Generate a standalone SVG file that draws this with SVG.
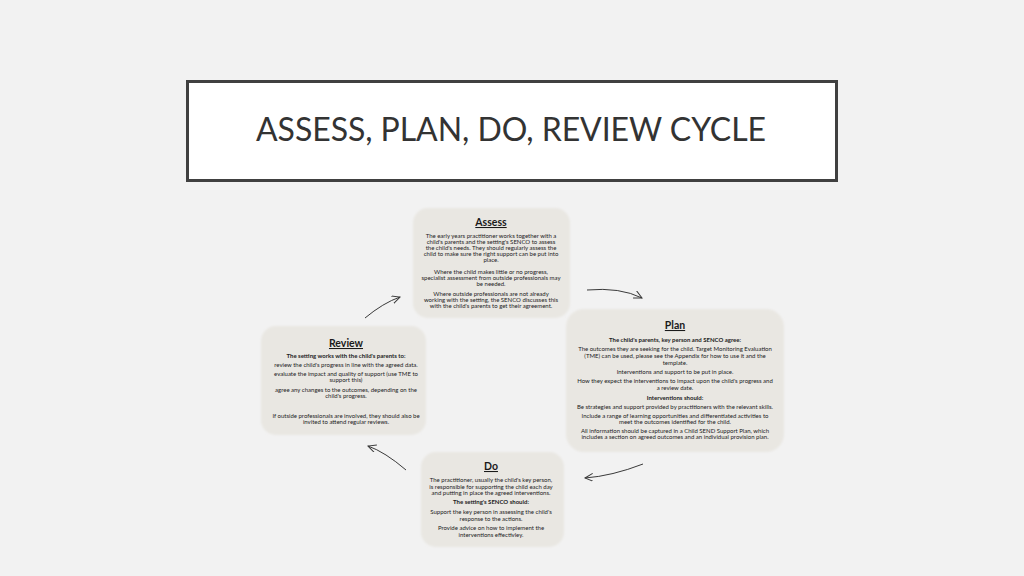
<svg xmlns="http://www.w3.org/2000/svg" width="1024" height="576" viewBox="0 0 1024 576">
<defs>
<filter id="soft" x="-5%" y="-5%" width="110%" height="110%"><feGaussianBlur stdDeviation="1.2"/></filter>
<marker id="ah" markerWidth="10" markerHeight="10" refX="8" refY="4" orient="auto" markerUnits="userSpaceOnUse"><path d="M0,0 L8,4 L0,8" fill="none" stroke="#3a3a3a" stroke-width="1"/></marker>
</defs>
<style>
.box{fill:#e9e7e2;filter:url(#soft)}
.h{font-family:Lato,"Liberation Sans",sans-serif;font-weight:bold;font-size:10.5px;text-decoration:underline;text-anchor:middle;fill:#1a1a1a}
.t{font-family:Lato,"Liberation Sans",sans-serif;font-size:6px;text-anchor:middle;fill:#222}
.b{font-weight:bold}
.c{fill:none;stroke:#3a3a3a;stroke-width:1;marker-end:url(#ah)}
</style>
<rect width="1024" height="576" fill="#f2f2f2"/>
<g id="title">
<rect x="187.5" y="81.5" width="649" height="99" fill="#ffffff" stroke="#404040" stroke-width="3"/>
<text x="511" y="141" font-family="Lato,'Liberation Sans',sans-serif" font-size="32" fill="#333333" text-anchor="middle" textLength="510" lengthAdjust="spacing">ASSESS, PLAN, DO, REVIEW CYCLE</text>
</g>
<g id="assess">
<rect class="box" x="413" y="208" width="157" height="110" rx="15"/>
<text class="h" x="491" y="226">Assess</text>
<text class="t" x="491" y="238">The early years practitioner works together with a</text>
<text class="t" x="491" y="244">child's parents and the setting's SENCO to assess</text>
<text class="t" x="491" y="250">the child's needs. They should regularly assess the</text>
<text class="t" x="491" y="256">child to make sure the right support can be put into</text>
<text class="t" x="491" y="262">place.</text>
<text class="t" x="491" y="274">Where the child makes little or no progress,</text>
<text class="t" x="491" y="280">specialist assessment from outside professionals may</text>
<text class="t" x="491" y="286">be needed.</text>
<text class="t" x="491" y="296">Where outside professionals are not already</text>
<text class="t" x="491" y="302">working with the setting, the SENCO discusses this</text>
<text class="t" x="491" y="308">with the child's parents to get their agreement.</text>
</g>
<g id="plan">
<rect class="box" x="566" y="309" width="218" height="143" rx="18"/>
<text class="h" x="675" y="329">Plan</text>
<text class="t b" x="675" y="342">The child's parents, key person and SENCO agree:</text>
<text class="t" x="675" y="351">The outcomes they are seeking for the child. Target Monitoring Evaluation</text>
<text class="t" x="675" y="358">(TME) can be used, please see the Appendix for how to use it and the</text>
<text class="t" x="675" y="365">template.</text>
<text class="t" x="675" y="374">Interventions and support to be put in place.</text>
<text class="t" x="675" y="383">How they expect the interventions to impact upon the child's progress and</text>
<text class="t" x="675" y="390">a review date.</text>
<text class="t b" x="675" y="400">Interventions should:</text>
<text class="t" x="675" y="409">Be strategies and support provided by practitioners with the relevant skills.</text>
<text class="t" x="675" y="418">Include a range of learning opportunities and differentiated activities to</text>
<text class="t" x="675" y="424">meet the outcomes identified for the child.</text>
<text class="t" x="675" y="433">All information should be captured in a Child SEND Support Plan, which</text>
<text class="t" x="675" y="439">includes a section on agreed outcomes and an individual provision plan.</text>
</g>
<g id="review">
<rect class="box" x="261" y="326" width="165" height="109" rx="15"/>
<text class="h" x="346" y="347">Review</text>
<text class="t b" x="346" y="358">The setting works with the child's parents to:</text>
<text class="t" x="346" y="367">review the child's progress in line with the agreed data.</text>
<text class="t" x="346" y="376">evaluate the impact and quality of support (use TME to</text>
<text class="t" x="346" y="382">support this)</text>
<text class="t" x="346" y="392">agree any changes to the outcomes, depending on the</text>
<text class="t" x="346" y="398">child's progress.</text>
<text class="t" x="346" y="418">If outside professionals are involved, they should also be</text>
<text class="t" x="346" y="424">invited to attend regular reviews.</text>
</g>
<g id="do">
<rect class="box" x="421" y="452" width="143" height="95" rx="15"/>
<text class="h" x="491" y="470">Do</text>
<text class="t" x="491" y="482">The practitioner, usually the child's key person,</text>
<text class="t" x="491" y="489">is responsible for supporting the child each day</text>
<text class="t" x="491" y="495">and putting in place the agreed interventions.</text>
<text class="t b" x="491" y="504">The setting's SENCO should:</text>
<text class="t" x="491" y="514">Support the key person in assessing the child's</text>
<text class="t" x="491" y="521">response to the actions.</text>
<text class="t" x="491" y="530">Provide advice on how to implement the</text>
<text class="t" x="491" y="537">interventions effectivley.</text>
</g>
<g id="connectors">
<path class="c" d="M365,318 Q383,303 400,297"/>
<path class="c" d="M587,290 Q620,287 642,298"/>
<path class="c" d="M643,464 Q612,476 585,478"/>
<path class="c" d="M406,470 Q385,452 368,446"/>
</g>
</svg>
